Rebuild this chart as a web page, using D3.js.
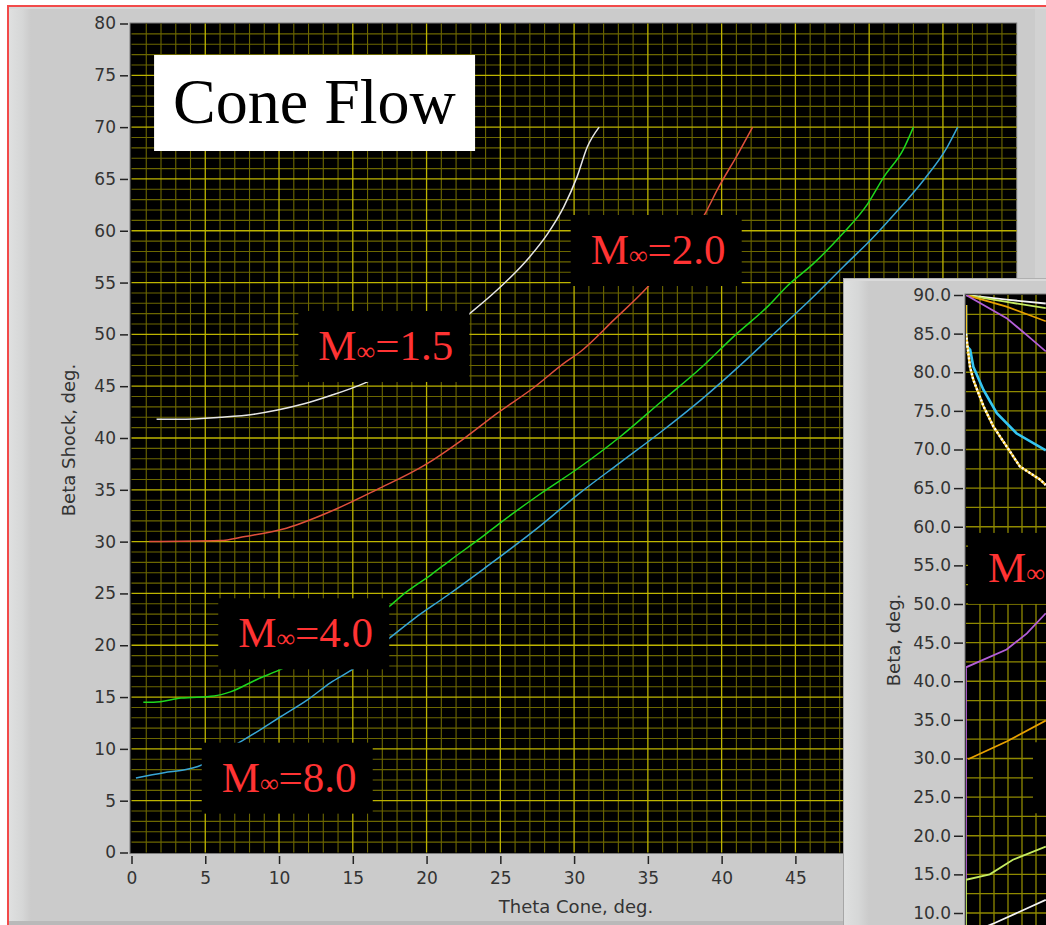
<!DOCTYPE html>
<html>
<head>
<meta charset="utf-8">
<script src="https://cdn.jsdelivr.net/npm/d3@7"></script>
<style>
  body { margin: 0; background: #fff; }
  svg { display: block; }
</style>
</head>
<body>
<div id="chart"></div>
<script>
// main chart data: [theta cone, beta shock] per free stream mach number
const xTicks = d3.range(0, 61, 5);
const yTicks = d3.range(0, 81, 5);
const machLabels = ["M∞=1.5", "M∞=2.0", "M∞=4.0", "M∞=8.0"];
const m15 = [[1.7,41.8],[3.2,41.8],[6.0,42.0],[8.3,42.3],[9.9,42.7],[11.7,43.3],[13.5,44.1],[15.8,45.3],
  [23.0,52.1],[24.8,54.3],[27.0,57.5],[28.2,59.7],[29.3,62.3],[30.2,65.2],[30.9,68.1],[31.7,70.0]];
const m20 = [[1.2,30.0],[6.0,30.1],[7.7,30.5],[10.5,31.3],[13.8,33.1],[16.6,35.0],[19.9,37.4],[22.3,39.7],
  [24.8,42.4],[27.3,44.9],[29.3,47.2],[30.4,48.3],[32.7,51.4],[35.0,54.6],[38.9,61.7],[39.8,64.2],[41.1,67.4],[42.1,70.0]];
const m40 = [[0.8,14.5],[1.5,14.5],[3.35,14.9],[5.6,15.1],[6.7,15.5],[8.5,16.7],[10.0,17.6],[17.6,23.9],[18.5,25.0],
  [20.3,26.8],[21.6,28.2],[23.9,30.6],[24.8,31.6],[27.6,34.5],[30.4,37.2],[33.1,40.1],[35.9,43.5],[38.7,46.9],
  [40.9,49.9],[43.2,52.8],[44.4,54.6],[46.2,56.8],[48.2,59.7],[49.9,62.6],[51.0,65.2],[52.3,67.8],[53.0,70.0]];
const m80 = [[0.3,7.2],[2.2,7.7],[3.7,8.0],[4.5,8.3],[7.4,10.7],[8.8,11.9],[10.1,13.1],[11.9,14.7],[13.5,16.4],
  [14.9,17.6],[17.5,20.7],[19.1,22.5],[21.4,24.8],[23.9,27.4],[27.6,31.4],[30.4,34.7],[33.1,37.6],[35.9,40.6],
  [38.7,43.8],[41.4,47.2],[43.2,49.6],[46.2,53.6],[48.3,56.6],[50.1,59.1],[51.9,61.9],[53.7,64.9],[55.3,68.1],[56.0,70.0]];
const mainColors = ["#e6e6e6", "#e0503c", "#1ed81e", "#38a6d6"];

// inset chart data: [theta, beta]
const insetTicks = d3.range(10, 91, 5);
const insetPurpleStrong = [[0,90],[5.8,87.0],[8.7,84.8],[11.4,82.7]];
const insetOrangeStrong = [[0,90],[5.8,88.5],[11.4,86.6]];
const insetLimeStrong = [[0,90],[5.8,89.1],[11.4,88.3]];
const insetWhiteStrong = [[0,90],[5.8,89.4],[11.4,88.9]];
const insetCyan = [[0,88.7],[0,83.5],[0.6,82.9],[1.05,80.7],[2.5,77.7],[4.4,74.7],[7.2,72.1],[11.4,69.9]];
const insetYellow = [[0,88.7],[0,85.0],[0.57,80.7],[1.05,79.0],[2.5,75.6],[3.9,73.0],[5.8,70.4],[7.7,67.8],[10.6,66.1],[11.4,65.4]];
const insetWhite = [[0,85.0],[0.57,80.7],[1.05,79.0],[2.5,75.6],[3.9,73.0],[5.8,70.4],[7.7,67.8],[10.6,66.1],[11.4,65.4]];
const insetPurpleWeak = [[0,14.3],[0,41.8],[5.8,44.1],[8.7,46.2],[11.4,48.8]];
const insetOrangeWeak = [[0.3,29.9],[5.8,32.2],[11.4,34.9]];
const insetLimeWeak = [[0,7.2],[0,14.3],[3.4,15.0],[6.7,16.9],[11.4,18.6]];
const insetWhiteWeak = [[0,7.2],[4.1,8.7],[11.4,11.7]];

const width = 1046,
  height = 925,
  axisFont = "'DejaVu Sans', Verdana, sans-serif",
  serifFont = "'Liberation Serif', 'Times New Roman', serif";

const svg = d3
  .select("#chart")
  .append("svg")
  .attr("width", width)
  .attr("height", height)
  .attr("viewBox", [0, 0, width, height]);

const defs = svg.append("defs");
const bevel = defs.append("linearGradient").attr("id", "bevel");
bevel.append("stop").attr("offset", "0%").attr("stop-color", "#dfe0e0");
bevel.append("stop").attr("offset", "60%").attr("stop-color", "#d6d7d7");
bevel.append("stop").attr("offset", "100%").attr("stop-color", "#cbcbcb");

// background panel
svg.append("rect").attr("width", width).attr("height", height).attr("fill", "#fff");
svg.append("rect").attr("x", 9).attr("y", 7).attr("width", 1100).attr("height", 914).attr("fill", "#cbcbcb");
svg.append("rect").attr("x", 9).attr("y", 7).attr("width", 22).attr("height", 914).attr("fill", "url(#bevel)");
svg.append("rect").attr("x", 9).attr("y", 7).attr("width", 1100).attr("height", 2).attr("fill", "#d8d8d8");
svg.append("rect").attr("x", 1035).attr("y", 9).attr("width", 11).attr("height", 912).attr("fill", "#d2d2d2");
svg.append("rect").attr("x", 9).attr("y", 921).attr("width", 1100).attr("height", 4).attr("fill", "#b9b9b9");
svg.append("rect")
  .attr("x", 8).attr("y", 6).attr("width", 1100).attr("height", 1000)
  .attr("fill", "none").attr("stroke", "#f24a4a").attr("stroke-width", 2);

// scales
const xScale = d3.scaleLinear([0, 60], [131.5, 1016.7]);
const yScale = d3.scaleLinear([0, 80], [852.5, 23.5]);

// plot area
svg.append("rect")
  .attr("x", xScale(0) - 1.5)
  .attr("y", yScale(80) - 0.5)
  .attr("width", xScale(60) - xScale(0) + 1.5)
  .attr("height", yScale(0) - yScale(80) + 1.5)
  .attr("fill", "#000")
  .attr("stroke", "#7c7c7c");

// grid: minor every 1, major every 5
const grid = svg.append("g");
grid.selectAll(".vminor")
  .data(d3.range(1, 60).filter((d) => d % 5 !== 0))
  .join("line")
  .attr("x1", (d) => xScale(d)).attr("x2", (d) => xScale(d))
  .attr("y1", yScale(80)).attr("y2", yScale(0))
  .attr("stroke", "#6c6700").attr("stroke-width", 1.1);
grid.selectAll(".hminor")
  .data(d3.range(1, 80).filter((d) => d % 5 !== 0))
  .join("line")
  .attr("x1", xScale(0)).attr("x2", xScale(60))
  .attr("y1", (d) => yScale(d)).attr("y2", (d) => yScale(d))
  .attr("stroke", "#6c6700").attr("stroke-width", 1.1);
grid.selectAll(".vmajor")
  .data(xTicks.filter((d) => d > 0 && d < 60))
  .join("line")
  .attr("x1", (d) => xScale(d)).attr("x2", (d) => xScale(d))
  .attr("y1", yScale(80)).attr("y2", yScale(0))
  .attr("stroke", "#bdb400").attr("stroke-width", 1.3);
grid.selectAll(".hmajor")
  .data(yTicks.filter((d) => d > 0 && d < 80))
  .join("line")
  .attr("x1", xScale(0)).attr("x2", xScale(60))
  .attr("y1", (d) => yScale(d)).attr("y2", (d) => yScale(d))
  .attr("stroke", "#bdb400").attr("stroke-width", 1.3);

// axes (x ticks past 45 sit under the inset)
svg.append("g")
  .attr("transform", `translate(128,0)`)
  .call(d3.axisLeft(yScale).tickValues(yTicks).tickSize(8).tickPadding(4))
  .call((g) => g.select(".domain").remove())
  .call((g) => g.selectAll(".tick line").attr("stroke", "#222").attr("stroke-width", 1.5))
  .call((g) => g.selectAll(".tick text")
    .attr("font-family", axisFont).attr("font-size", 17).attr("fill", "#333"));

svg.append("g")
  .attr("transform", `translate(0,856)`)
  .call(d3.axisBottom(xScale).tickValues(xTicks.filter((d) => d <= 45)).tickSize(8).tickPadding(8))
  .call((g) => g.select(".domain").remove())
  .call((g) => g.selectAll(".tick line").attr("stroke", "#222").attr("stroke-width", 1.5))
  .call((g) => g.selectAll(".tick text")
    .attr("font-family", axisFont).attr("font-size", 17).attr("fill", "#333"));

// axis titles
svg.append("text")
  .attr("x", 576).attr("y", 913)
  .attr("text-anchor", "middle")
  .attr("font-family", axisFont).attr("font-size", 18).attr("fill", "#333")
  .text("Theta Cone, deg.");
svg.append("text")
  .attr("transform", "translate(75,440)rotate(-90)")
  .attr("text-anchor", "middle")
  .attr("font-family", axisFont).attr("font-size", 18).attr("fill", "#333")
  .text("Beta Shock, deg.");

// curves
const line = d3.line()
  .x((d) => xScale(d[0]))
  .y((d) => yScale(d[1]))
  .curve(d3.curveMonotoneX);
svg.append("g")
  .selectAll("path")
  .data([m15, m20, m40, m80])
  .join("path")
  .attr("d", line)
  .attr("fill", "none")
  .attr("stroke", (d, i) => mainColors[i])
  .attr("stroke-width", 1.5);

// mach label boxes, anchored at their top left corner in data units
function machBox(g, label, left, top) {
  g.append("rect")
    .attr("x", left).attr("y", top)
    .attr("width", 171).attr("height", 71)
    .attr("fill", "#000");
  const [name, value] = label.split("∞");
  const t = g.append("text")
    .attr("x", left + 20).attr("y", top + 49)
    .attr("font-family", serifFont).attr("fill", "#ff3333").attr("font-size", 43);
  t.append("tspan").text(name);
  t.append("tspan").attr("font-size", 26).text("∞");
  if (value) t.append("tspan").text(value);
}

const mainBoxes = svg.append("g");
const boxAnchors = [[11.31, 52.26], [29.77, 61.52], [5.88, 24.53], [4.76, 10.6]];
machLabels.forEach((label, i) => {
  machBox(mainBoxes, label, xScale(boxAnchors[i][0]), yScale(boxAnchors[i][1]));
});

// title box
svg.append("rect")
  .attr("x", xScale(1.53)).attr("y", yScale(76.96))
  .attr("width", 321).attr("height", 96)
  .attr("fill", "#fff");
svg.append("text")
  .attr("x", xScale(1.53) + 19).attr("y", yScale(76.96) + 68)
  .attr("font-family", serifFont).attr("font-size", 64).attr("fill", "#000")
  .text("Cone Flow");

// inset chart
const inset = svg.append("g");
inset.append("rect").attr("x", 843).attr("y", 278).attr("width", 300).attr("height", 700).attr("fill", "#cbcbcb");
inset.append("rect").attr("x", 843).attr("y", 278).attr("width", 26).attr("height", 700).attr("fill", "url(#bevel)");
inset.append("rect").attr("x", 843).attr("y", 278).attr("width", 300).attr("height", 3).attr("fill", "#dadada");
inset.append("line").attr("x1", 843.5).attr("x2", 843.5).attr("y1", 278).attr("y2", 925).attr("stroke", "#a6a6a6");
inset.append("line").attr("x1", 843).attr("x2", 1046).attr("y1", 278.5).attr("y2", 278.5).attr("stroke", "#b0b0b0");

const ixScale = d3.scaleLinear([0, 12], [966, 1050]);
const iyScale = d3.scaleLinear([10, 90], [913, 295]);

defs.append("clipPath").attr("id", "insetClip")
  .append("rect").attr("x", ixScale(0)).attr("y", iyScale(90)).attr("width", 200).attr("height", 700);

inset.append("rect")
  .attr("x", ixScale(0) - 1).attr("y", iyScale(90) - 1)
  .attr("width", 200).attr("height", 700)
  .attr("fill", "#000").attr("stroke", "#7c7c7c");

inset.append("g")
  .selectAll("line")
  .data(d3.range(10, 90, 2.5))
  .join("line")
  .attr("x1", ixScale(0)).attr("x2", 1046)
  .attr("y1", (d) => iyScale(d)).attr("y2", (d) => iyScale(d))
  .attr("stroke", "#8f8900").attr("stroke-width", 1.3);
inset.append("g")
  .selectAll("line")
  .data(d3.range(2, 12, 2))
  .join("line")
  .attr("x1", (d) => ixScale(d)).attr("x2", (d) => ixScale(d))
  .attr("y1", iyScale(90)).attr("y2", height)
  .attr("stroke", "#8f8900").attr("stroke-width", 1.3);

inset.append("g")
  .attr("transform", `translate(963,0)`)
  .call(d3.axisLeft(iyScale).tickValues(insetTicks).tickSize(9).tickPadding(3).tickFormat(d3.format(".1f")))
  .call((g) => g.select(".domain").remove())
  .call((g) => g.selectAll(".tick line").attr("stroke", "#222").attr("stroke-width", 1.5))
  .call((g) => g.selectAll(".tick text")
    .attr("font-family", axisFont).attr("font-size", 17).attr("fill", "#333"));

inset.append("text")
  .attr("transform", "translate(900,640)rotate(-90)")
  .attr("text-anchor", "middle")
  .attr("font-family", axisFont).attr("font-size", 18).attr("fill", "#333")
  .text("Beta, deg.");

const iline = d3.line().x((d) => ixScale(d[0])).y((d) => iyScale(d[1]));
const insetSeries = [
  { data: insetWhiteStrong, color: "#f4f4f4", dash: null, w: 1.8 },
  { data: insetLimeStrong, color: "#c6ec62", dash: null, w: 1.8 },
  { data: insetOrangeStrong, color: "#e8a000", dash: null, w: 1.8 },
  { data: insetPurpleStrong, color: "#b45fd8", dash: null, w: 1.8 },
  { data: insetCyan, color: "#35c6f2", dash: null, w: 2.6 },
  { data: insetYellow, color: "#f2c42a", dash: null, w: 2.4 },
  { data: insetWhite, color: "#ffffff", dash: "2,2", w: 2.4 },
  { data: insetPurpleWeak, color: "#b45fd8", dash: null, w: 1.8 },
  { data: insetOrangeWeak, color: "#e8a000", dash: null, w: 1.8 },
  { data: insetLimeWeak, color: "#c6ec62", dash: null, w: 1.8 },
  { data: insetWhiteWeak, color: "#f4f4f4", dash: null, w: 1.8 },
];
inset.append("g")
  .attr("clip-path", "url(#insetClip)")
  .selectAll("path")
  .data(insetSeries)
  .join("path")
  .attr("d", (d) => iline(d.data))
  .attr("fill", "none")
  .attr("stroke", (d) => d.color)
  .attr("stroke-dasharray", (d) => d.dash)
  .attr("stroke-width", (d) => d.w);

// inset label boxes run off the window, only "M∞" shows
machBox(inset, "M∞", ixScale(0.29), iyScale(59.2));
inset.append("rect")
  .attr("x", ixScale(9.57)).attr("y", iyScale(32.1))
  .attr("width", 171).attr("height", 71)
  .attr("fill", "#000");
</script>
</body>
</html>
